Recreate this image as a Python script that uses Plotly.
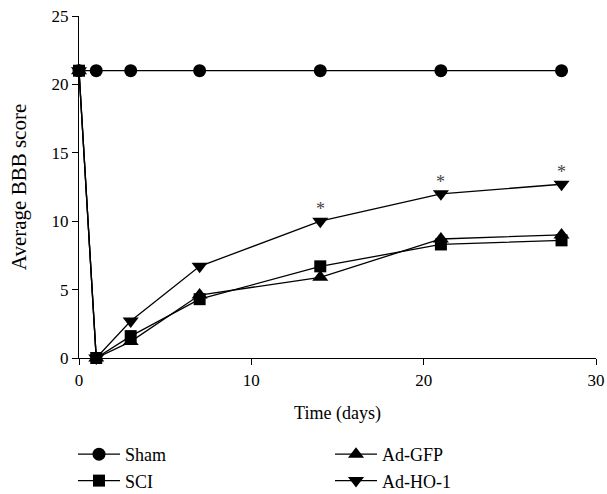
import plotly.graph_objects as go

days = [0, 1, 3, 7, 14, 21, 28]
sham = [21, 21, 21, 21, 21, 21, 21]
sci = [21, 0, 1.6, 4.3, 6.7, 8.3, 8.6]
ad_gfp = [21, 0, 1.2, 4.6, 5.9, 8.7, 9.0]
ad_ho1 = [21, 0, 2.7, 6.7, 10.0, 12.0, 12.7]
sig_days = [14, 21, 28]
sig_vals = [10.0, 12.0, 12.7]

FONT = "Liberation Serif"
line = dict(color="black", width=1.3)

fig = go.Figure()
fig.add_trace(go.Scatter(x=days, y=sham, name="Sham", mode="lines+markers", line=line,
                         marker=dict(symbol="circle", size=13, color="black"),
                         legend="legend", legendrank=1, cliponaxis=False))
fig.add_trace(go.Scatter(x=days, y=ad_ho1, name="Ad-HO-1", mode="lines+markers", line=line,
                         marker=dict(symbol="triangle-down", size=14, color="black"),
                         legend="legend2", legendrank=2, cliponaxis=False))
fig.add_trace(go.Scatter(x=days, y=ad_gfp, name="Ad-GFP", mode="lines+markers", line=line,
                         marker=dict(symbol="triangle-up", size=14, color="black"),
                         legend="legend2", legendrank=1, cliponaxis=False))
fig.add_trace(go.Scatter(x=days, y=sci, name="SCI", mode="lines+markers", line=line,
                         marker=dict(symbol="square", size=12, color="black"),
                         legend="legend", legendrank=2, cliponaxis=False))

for d, v in zip(sig_days, sig_vals):
    fig.add_annotation(x=d, y=v, text="*", showarrow=False, yshift=12,
                       font=dict(family=FONT, size=18, color="#444"))

axis_common = dict(showline=True, linecolor="black", linewidth=1.2, ticks="outside",
                   ticklen=6, tickwidth=1.2, tickcolor="black", showgrid=False, zeroline=False,
                   automargin=False,
                   tickfont=dict(family=FONT, size=17, color="black"))

fig.update_layout(
    width=607, height=494,
    margin=dict(l=79, r=11, t=16, b=136, autoexpand=False),
    paper_bgcolor="white", plot_bgcolor="white",
    font=dict(family=FONT, size=18, color="black"),
    xaxis=dict(range=[0, 30], tickvals=[0, 10, 20, 30],
               title=dict(text="Time (days)", font=dict(family=FONT, size=18), standoff=17),
               **axis_common),
    yaxis=dict(range=[0, 25], tickvals=[0, 5, 10, 15, 20, 25],
               title=dict(text="Average BBB score", font=dict(family=FONT, size=21), standoff=19),
               **axis_common),
    legend=dict(x=-0.0116, y=-0.2281,
                xanchor="left", yanchor="top", bgcolor="rgba(0,0,0,0)",
                font=dict(family=FONT, size=18), itemwidth=42, tracegroupgap=0),
    legend2=dict(x=0.4855, y=-0.2281,
                 xanchor="left", yanchor="top", bgcolor="rgba(0,0,0,0)",
                 font=dict(family=FONT, size=18), itemwidth=42, tracegroupgap=0),
)

fig.write_html("out.html", config={"displayModeBar": False},
               post_script="document.body.style.margin='0';")
